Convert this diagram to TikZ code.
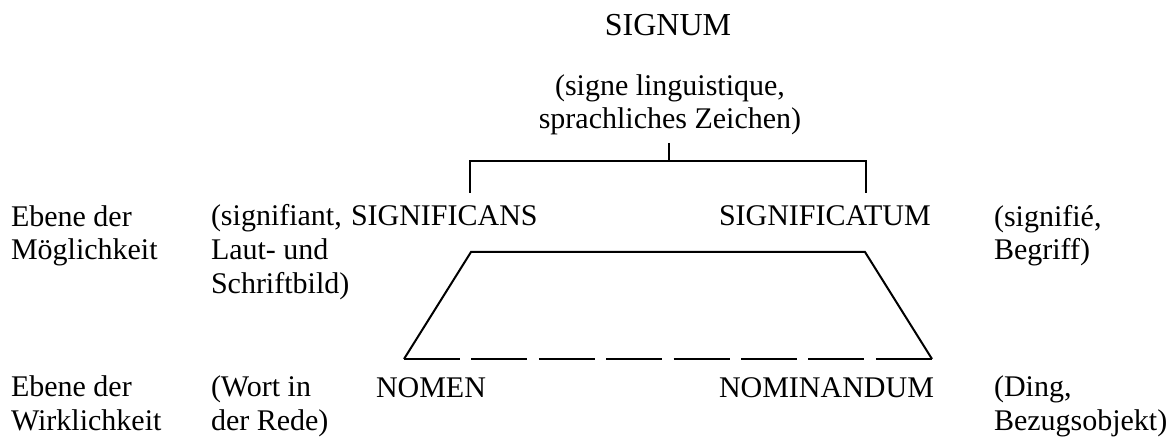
\documentclass[tikz,border=0pt]{standalone}
\usepackage{fontspec}
\setmainfont{Liberation Serif}

\begin{document}
\begin{tikzpicture}[
    x=0.5pt, y=-0.5pt,
    line width=1pt,
    every node/.style={font=\fontsize{15}{16.75}\selectfont, inner sep=0pt, anchor=base west, align=left},
    head/.style={font=\fontsize{16}{18}\selectfont, anchor=base}
]
\useasboundingbox (0,0) rectangle (1173,438);

% Sign and its gloss (base = last line)
\node[head] (signum) at (668,36) {SIGNUM};
\node[anchor=base, align=center] (gloss) at (670,129) {(signe linguistique,\\sprachliches Zeichen)};

% Bracket
\coordinate (stemtop) at (669,143);
\coordinate (fork) at (669,161);
\coordinate (legl) at (470,193);
\coordinate (legr) at (866,193);
\draw (stemtop) -- (fork);
\draw (legl) |- (legr |- fork) -- (legr);

% Level of possibility
\node (ebeneA) at (10,260) {Ebene der\\Möglichkeit};
\node (signifiant) at (210,293) {(signifiant,\\Laut- und\\Schriftbild)};
\node (significans) at (350,226) {SIGNIFICANS};
\node (significatum) at (718,226) {SIGNIFICATUM};
\node (signifie) at (993,260) {(signifié,\\Begriff)};

% Trapezoid
\coordinate (tl) at (471,252);
\coordinate (tr) at (865,252);
\coordinate (bl) at (404,359);
\coordinate (br) at (932,359);
\draw (bl) -- (tl) -- (tr) -- (br);
\draw[dash pattern=on 28pt off 5.7pt] (bl) -- (br);

% Level of reality
\node (ebeneB) at (10,430) {Ebene der\\Wirklichkeit};
\node (wort) at (210,430) {(Wort in\\der Rede)};
\node (nomen) at (375,397) {NOMEN};
\node (nominandum) at (718,397) {NOMINANDUM};
\node (ding) at (993,430) {(Ding,\\Bezugsobjekt)};

\end{tikzpicture}
\end{document}
